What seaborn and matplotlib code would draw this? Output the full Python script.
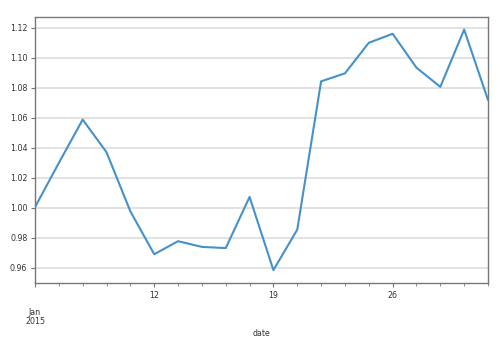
import matplotlib
matplotlib.use("Agg")
import matplotlib.pyplot as plt
import seaborn as sns
import pandas as pd
import numpy as np
from matplotlib.ticker import FixedLocator, FormatStrFormatter

# business days Jan 5 .. Jan 30, 2015
dates = pd.bdate_range("2015-01-05", periods=20)
values = [1.0005, 1.030, 1.0589, 1.0371, 0.9977, 0.9691, 0.9778, 0.9740, 0.9732, 1.0073,
          0.9585, 0.9855, 1.0844, 1.0897, 1.1101, 1.1161, 1.0935, 1.0807, 1.1189, 1.0720]
major_labels = ["\n\nJan\n2015", "12", "19", "26"]
yticks = [0.96, 0.98, 1.00, 1.02, 1.04, 1.06, 1.08, 1.10, 1.12]

sns.set_style("white")
plt.rcParams["font.family"] = ["DejaVu Sans"]

df = pd.DataFrame({"pos": np.arange(len(dates)), "value": values})

fig = plt.figure(figsize=(5, 3.4), dpi=100)
ax = fig.add_axes([0.07, 0.168, 0.906, 0.782])
sns.lineplot(data=df, x="pos", y="value", ax=ax, color="#4591c9", linewidth=1.5)

ax.set_xlim(0, len(dates) - 1)
ax.set_ylim(0.95, 1.1273)
major_pos = [i for i, d in enumerate(dates) if d.weekday() == 0]
ax.xaxis.set_major_locator(FixedLocator(major_pos))
ax.set_xticklabels(major_labels, va="top", linespacing=0.98)
ax.xaxis.set_minor_locator(FixedLocator(list(range(len(dates)))))
ax.set_yticks(yticks)
ax.yaxis.set_major_formatter(FormatStrFormatter("%.2f"))

ax.grid(axis="y", color="#dddddd", linewidth=1.2)
ax.grid(axis="x", visible=False)
for s in ax.spines.values():
    s.set_color("#777777")
    s.set_linewidth(1.0)
ax.tick_params(axis="both", which="major", length=3, width=0.8, color="#777777",
               labelsize=5.7, labelcolor="#333333", bottom=True, left=True, pad=2.5)
ax.tick_params(axis="x", which="minor", length=2, width=0.6, color="#777777", bottom=True)
ax.set_xlabel("date", fontsize=5.7, color="#333333", labelpad=2)
ax.set_ylabel("")

fig.savefig("out.png", dpi=100)
